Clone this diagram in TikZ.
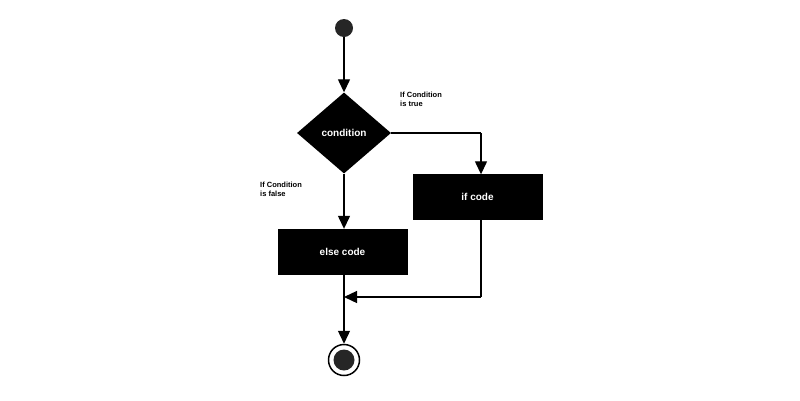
\documentclass[tikz,border=0pt]{standalone}
\usepackage{fontspec}
\setmainfont{Liberation Sans}
\usetikzlibrary{shapes.geometric,arrows.meta}
\begin{document}
\begin{tikzpicture}[x=1pt,y=-1pt,
  box/.style={draw=black,fill=black,text=white,font=\bfseries\fontsize{10}{12}\selectfont,minimum width=129pt,minimum height=45pt,inner sep=0pt},
  lab/.style={font=\bfseries\fontsize{7.5}{9}\selectfont,align=left,anchor=north west,inner sep=0pt},
  arr/.style={line width=1.3pt,-{Triangle[length=13pt,width=12pt]}},
  ln/.style={line width=1.3pt}]
\useasboundingbox (0,0) rectangle (800,400);
\node[circle,fill=black!85,minimum size=18pt,inner sep=0pt] (start) at (344,28) {};
\node[diamond,fill=black,text=white,font=\bfseries\fontsize{10}{12}\selectfont,minimum width=94pt,minimum height=81pt,inner sep=0pt] (cond) at (344,133) {condition};
\node[box] (ifc) at (477.5,197) {if code};
\node[box] (elsec) at (342.5,251.5) {else code};
\node[circle,draw=black,line width=1.5pt,minimum size=31pt,inner sep=0pt] (end) at (344,360) {};
\node[circle,fill=black!85,minimum size=21pt,inner sep=0pt] (endi) at (344,360) {};
\coordinate (merge) at (344,297);
\coordinate (corner) at (481,297);
\coordinate (rc) at (481,133);
\draw[arr] (start) -- (cond.north);
\draw[ln] (cond.east) -- (rc);
\draw[arr] (rc) -- (ifc.north -| rc);
\draw[arr] (cond.south) -- (elsec.north -| cond.south);
\draw[ln] (ifc.south -| corner) -- (corner);
\draw[arr] (corner) -- (merge);
\draw[arr] (elsec.south -| merge) -- (end.north);
\node[lab] (lt) at (400,92) {If Condition\\is true};
\node[lab] (lf) at (260,182) {If Condition\\is false};
\end{tikzpicture}
\end{document}
